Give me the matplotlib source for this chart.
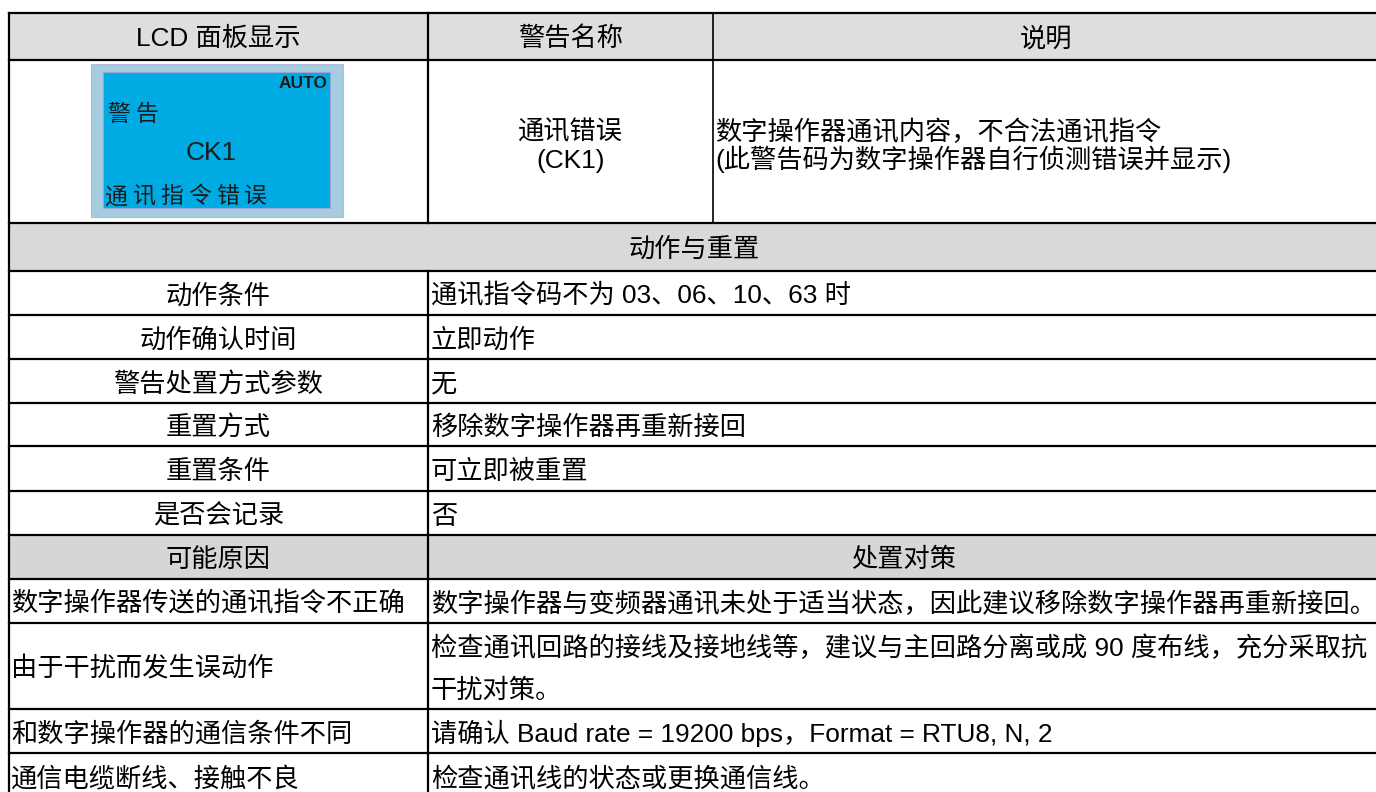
import matplotlib.pyplot as plt
from matplotlib.patches import Rectangle

W, H = 1376, 792
FONT = ['Liberation Sans', 'Noto Sans CJK SC', 'DejaVu Sans']
SIZE = 18.9

HEADER_COLS = ['LCD 面板显示', '警告名称', '说明']
LCD_TOP = 'AUTO'
LCD_TITLE = '警告'
LCD_CODE = 'CK1'
LCD_MSG = '通讯指令错误'
ALARM_NAME = ['通讯错误', '(CK1)']
DESCRIPTION = ['数字操作器通讯内容，不合法通讯指令',
               '(此警告码为数字操作器自行侦测错误并显示)']

SECTION_TITLE = '动作与重置'
ACTION_LABELS = ['动作条件', '动作确认时间', '警告处置方式参数',
                 '重置方式', '重置条件', '是否会记录']
ACTION_VALUES = ['通讯指令码不为 03、06、10、63 时', '立即动作', '无',
                 '移除数字操作器再重新接回', '可立即被重置', '否']

CAUSE_HEADER = ['可能原因', '处置对策']
CAUSES = ['数字操作器传送的通讯指令不正确', '由于干扰而发生误动作',
          '和数字操作器的通信条件不同', '通信电缆断线、接触不良']
REMEDIES = [['数字操作器与变频器通讯未处于适当状态，因此建议移除数字操作器再重新接回。'],
            ['检查通讯回路的接线及接地线等，建议与主回路分离或成 90 度布线，充分采取抗',
             '干扰对策。'],
            ['请确认 Baud rate = 19200 bps，Format = RTU8, N, 2'],
            ['检查通讯线的状态或更换通信线。']]

# table grid (pixels)
X0, X1, X2, XR = 9, 428, 713, 1379
TOP, HEAD_B, ROW2_B, SEC_B = 13, 60, 223, 271
ACTION_B = [315, 359, 403, 446, 491, 535]
CAUSE_HEAD_B = 579
CAUSE_B = [623, 709, 753, 800]


def put(ax, x, yc, s, ha='center', size=SIZE, **kw):
    # place text by its visual centre, using baseline offset
    ax.text(x, yc + 0.37 * size / 0.72, s, ha=ha, va='baseline',
            fontsize=size, family=kw.pop('family', FONT), color=kw.pop('color', 'black'), **kw)


def draw_lcd(ax):
    ax.add_patch(Rectangle((91, 64), 252, 153, facecolor='#a6cce0',
                           edgecolor='#b4bcdc', lw=0.8))
    ax.add_patch(Rectangle((103, 72), 227, 136, facecolor='#00aae2',
                           edgecolor='#9aa6d6', lw=0.8))
    ink = '#1c1c1c'
    put(ax, 327, 82, LCD_TOP, ha='right', size=12.5, color=ink, weight='bold')
    put(ax, 211, 150, LCD_CODE, size=19, color=ink)
    cjk = ['Noto Sans CJK SC']
    for i, ch in enumerate(LCD_TITLE):
        put(ax, 107 + i * 29, 113, ch, ha='left', size=16.5, color=ink, family=cjk, weight='light')
    for i, ch in enumerate(LCD_MSG):
        put(ax, 104 + i * 28, 195, ch, ha='left', size=16.5, color=ink, family=cjk, weight='light')


def main():
    fig = plt.figure(figsize=(W / 100, H / 100), dpi=100)
    ax = fig.add_axes([0, 0, 1, 1])
    ax.set_xlim(0, W)
    ax.set_ylim(H, 0)
    ax.axis('off')

    # gray header fills
    ax.add_patch(Rectangle((X0, TOP), XR - X0, HEAD_B - TOP, color='#dedede', lw=0))
    ax.add_patch(Rectangle((X0, ROW2_B), XR - X0, SEC_B - ROW2_B, color='#d9d9d9', lw=0))
    ax.add_patch(Rectangle((X0, ACTION_B[-1]), XR - X0, CAUSE_HEAD_B - ACTION_B[-1],
                           color='#d6d6d6', lw=0))

    # horizontal rules
    lw = 1.6
    for y in [TOP, HEAD_B, ROW2_B, SEC_B] + ACTION_B + [CAUSE_HEAD_B] + CAUSE_B[:-1]:
        ax.plot([X0, XR], [y, y], color='black', lw=lw, solid_capstyle='projecting')
    # vertical rules
    ax.plot([X0, X0], [TOP, H + 5], color='black', lw=lw)
    ax.plot([X1, X1], [TOP, ROW2_B], color='black', lw=lw)
    ax.plot([X1, X1], [SEC_B, H + 5], color='black', lw=lw)
    ax.plot([X2, X2], [TOP, ROW2_B], color='black', lw=1.2)

    # header
    hc = (TOP + HEAD_B) / 2
    put(ax, (X0 + X1) / 2, hc, HEADER_COLS[0])
    put(ax, (X1 + X2) / 2, hc, HEADER_COLS[1])
    put(ax, (X2 + XR) / 2, hc, HEADER_COLS[2])

    # alarm row
    draw_lcd(ax)
    for i, s in enumerate(ALARM_NAME):
        put(ax, (X1 + X2) / 2, 130 + i * 28, s)
    for i, s in enumerate(DESCRIPTION):
        put(ax, X2 + 2, 130 + i * 28, s, ha='left')

    # action & reset section
    put(ax, (X0 + XR) / 2, (ROW2_B + SEC_B) / 2, SECTION_TITLE)
    tops = [SEC_B] + ACTION_B[:-1]
    for top, bot, lab, val in zip(tops, ACTION_B, ACTION_LABELS, ACTION_VALUES):
        yc = (top + bot) / 2 + 1
        put(ax, (X0 + X1) / 2, yc, lab)
        put(ax, X1 + 3, yc, val, ha='left')

    # causes section
    yc = (ACTION_B[-1] + CAUSE_HEAD_B) / 2
    put(ax, (X0 + X1) / 2, yc, CAUSE_HEADER[0])
    put(ax, (X1 + XR) / 2, yc, CAUSE_HEADER[1])
    tops = [CAUSE_HEAD_B] + CAUSE_B[:-1]
    for top, bot, cause, lines in zip(tops, CAUSE_B, CAUSES, REMEDIES):
        yc = (top + bot) / 2 + 1
        put(ax, X0 + 2, yc, cause, ha='left')
        n = len(lines)
        for i, s in enumerate(lines):
            put(ax, X1 + 3, yc + (i - (n - 1) / 2) * 42, s, ha='left')

    fig.savefig('out.png', dpi=100)


if __name__ == '__main__':
    main()
